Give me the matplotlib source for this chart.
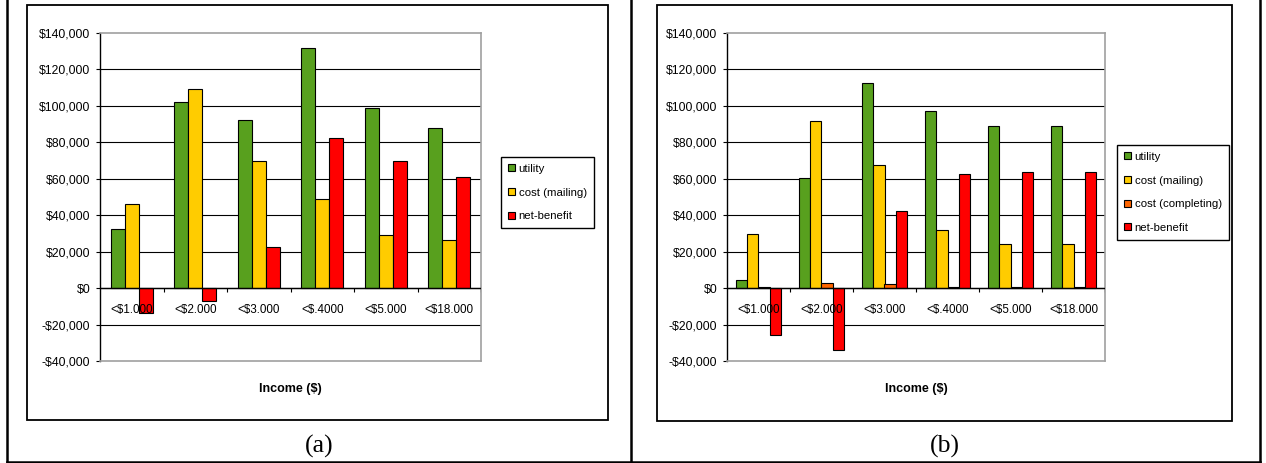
import numpy as np
import matplotlib
matplotlib.use("Agg")
import matplotlib.pyplot as plt
from matplotlib.lines import Line2D
from matplotlib.patches import Rectangle

# --- datos ---
categorias = ['<$1.000', '<$2.000', '<$3.000', '<$.4000', '<$5.000', '<$18.000']

# panel (a)
a_utility = [32500, 102000, 92000, 131500, 99000, 87700]
a_mailing = [46000, 109000, 69500, 49000, 29400, 26500]
a_net = [-13700, -7000, 22700, 82400, 69500, 61200]

# panel (b)
b_utility = [4300, 60500, 112300, 97000, 88700, 88700]
b_mailing = [29700, 91800, 67500, 31800, 24300, 24300]
b_completing = [700, 2900, 2200, 700, 700, 700]
b_net = [-25800, -34100, 42500, 62800, 63600, 63600]

verde = '#58A01E'
amarillo = '#FFCC00'
naranja = '#FF6600'
rojo = '#FF0000'

W, H = 1266, 463
plt.rcParams['font.family'] = ['Liberation Sans', 'DejaVu Sans']
fig = plt.figure(figsize=(W / 100, H / 100), dpi=100)

# fondo: tabla y marcos (coordenadas en pixeles)
bg = fig.add_axes([0, 0, 1, 1], zorder=-10)
bg.set_xlim(0, W)
bg.set_ylim(H, 0)
bg.axis('off')
for xs, ys in [([7, 7], [0, 462]), ([631, 631], [0, 462]), ([1260, 1260], [0, 462]), ([7, 1260], [462, 462])]:
    bg.add_line(Line2D(xs, ys, color='black', lw=1.8))
bg.add_patch(Rectangle((27, 5), 581, 415, fill=False, ec='black', lw=1.3))
bg.add_patch(Rectangle((657, 5), 575, 416, fill=False, ec='black', lw=1.3))
bg.text(319, 446, '(a)', family='Liberation Serif', fontsize=18.5, ha='center', va='center')
bg.text(945, 446, '(b)', family='Liberation Serif', fontsize=18.5, ha='center', va='center')


def px_rect(x0, y0, x1, y1):
    return [x0 / W, 1 - y1 / H, (x1 - x0) / W, (y1 - y0) / H]


def panel(rect, series, legend_xy):
    ax = fig.add_axes(px_rect(*rect))
    n = len(series)
    w = 1.0 / (n + 1.5)
    x = np.arange(len(categorias))
    for i, (vals, col, lab) in enumerate(series):
        ax.bar(x + (i - (n - 1) / 2) * w, vals, w, color=col, edgecolor='black',
               linewidth=0.8, label=lab, zorder=2)
    ax.set_xlim(-0.5, len(categorias) - 0.5)
    ax.set_ylim(-40000, 140000)
    yt = np.arange(-40000, 140001, 20000)
    ax.set_yticks(yt)
    ax.set_yticklabels([('-$' if v < 0 else '$') + f'{abs(v):,}' for v in yt], fontsize=8.8)
    ax.tick_params(axis='y', length=3, width=0.8, pad=4, direction='out')
    ax.set_xticks([])
    ax.hlines(yt[1:-1], -0.5, len(categorias) - 0.5, color='black', lw=0.8, zorder=1)
    ax.axhline(0, color='black', lw=1.0, zorder=3)
    ax.vlines(np.arange(0.5, len(categorias)), -2200, 0, color='black', lw=0.8, zorder=3)
    for s in ['top', 'right', 'bottom']:
        ax.spines[s].set_color('#A0A0A0')
        ax.spines[s].set_linewidth(1.2)
    ax.spines['left'].set_color('black')
    ax.spines['left'].set_linewidth(1.0)
    for xi, c in zip(x, categorias):
        ax.text(xi, -12000, c, ha='center', va='center', fontsize=8.4, zorder=5)
    ax.text(0.5, -0.085, 'Income ($)', transform=ax.transAxes, ha='center', va='center',
            fontsize=9, fontweight='bold')
    leg = ax.legend(loc='upper left', bbox_to_anchor=(legend_xy[0] / W, 1 - legend_xy[1] / H),
                    bbox_transform=fig.transFigure, borderaxespad=0, fancybox=False,
                    edgecolor='black', fontsize=8.2, handlelength=0.6, handleheight=0.6,
                    handletextpad=0.35, labelspacing=1.2, borderpad=0.6, framealpha=1)
    leg.get_frame().set_linewidth(1.0)
    return ax


panel((100, 33, 481, 361),
      [(a_utility, verde, 'utility'), (a_mailing, amarillo, 'cost (mailing)'), (a_net, rojo, 'net-benefit')],
      (501, 157))
panel((727, 33, 1105, 361),
      [(b_utility, verde, 'utility'), (b_mailing, amarillo, 'cost (mailing)'),
       (b_completing, naranja, 'cost (completing)'), (b_net, rojo, 'net-benefit')],
      (1117, 145))

fig.savefig('out.png', dpi=100)
